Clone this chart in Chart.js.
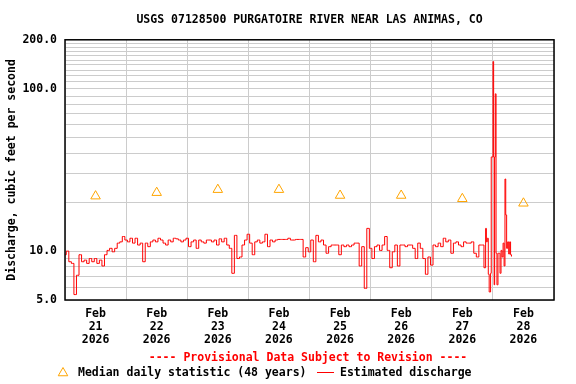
<!DOCTYPE html>
<html>
<head>
<meta charset="utf-8">
<script src="https://cdn.jsdelivr.net/npm/chart.js@4.4.0/dist/chart.umd.min.js"></script>
<style>
  body { margin: 0; background: #fff; }
  #wrap { width: 576px; height: 384px; }
</style>
</head>
<body>
<div id="wrap"><canvas id="flowChart" width="576" height="384"></canvas></div>
<script>
// hourly discharge, Feb 21 00:00 -> Feb 27 20:00 (hour 0..164), cfs
const flowHourly = [
  9.5, 10, 8.6, 8.4, 5.4, 7.1, 9.5, 8.6, 8.8, 8.4, 9, 8.6, 9, 8.4, 8.8, 8.1,
  9.5, 10.1, 10.4, 9.9, 10.4, 11.2, 11.4, 12.3, 11.7, 11.4, 12, 11.2, 12, 10.9,
  11.2, 8.6, 11.2, 10.65, 11.4, 11.7, 11.4, 12, 11.7, 11.2, 10.9, 11.7, 11.4,
  12, 11.9, 11.7, 11.4, 11.7, 12, 10.65, 11.4, 11.7, 10.4, 11.7, 11.4, 11.2,
  11.7, 11.7, 11.4, 11.7, 10.9, 11.9, 11.4, 12, 10.9, 10.4, 7.3, 12.5, 9.0,
  9.2, 10.9, 11.7, 12.7, 11.2, 9.5, 11.4, 11.7, 11.2, 11.4, 12.7, 10.65, 11.7,
  11.4, 11.7, 11.8, 11.8, 11.8, 11.8, 12, 11.7, 11.7, 11.8, 11.8, 11.8, 9.2,
  10.5, 9.9, 11.7, 8.6, 12.5, 11.4, 11.7, 10.9, 9.7, 10.65, 10.9, 10.9, 10.9,
  9.5, 10.9, 10.65, 10.9, 10.65, 10.9, 11.2, 11.2, 8.1, 10.65, 5.9, 13.8, 10.4,
  9, 10.65, 10.9, 10.1, 10.9, 12.3, 10.1, 7.9, 9.9, 10.9, 8.1, 10.9, 10.9,
  10.65, 10.9, 10.9, 10.4, 9, 11.2, 10.4, 9, 7.2, 9.2, 8.2, 10.9, 10.65, 11.2,
  10.65, 12, 11.4, 11.7, 9.7, 11.2, 11.4, 10.9, 10.65, 11.4, 11.2, 11.2, 11.4,
  9.7, 9.2, 10.9, 10.9
];

// storm event on Feb 27-28, finer time steps (hours since Feb 21 00:00)
const peakTimes = [
  165.0, 165.3, 165.6, 166.0, 166.4, 166.7, 167.0, 167.2, 167.5, 167.9, 168.2,
  168.4, 168.6, 168.8, 169.1, 169.4, 169.8, 170.2, 170.6, 171.0, 171.4, 171.8,
  172.2, 172.6, 172.9, 173.2, 173.6, 174.0, 174.4, 174.8, 175.1, 175.5
];
const peakFlow = [
  7.9, 13.8, 11.4, 12.0, 7.2, 5.6, 5.6, 7.3, 38, 38, 147,
  38, 6.2, 38, 93, 9.7, 6.2, 9.7, 9.7, 7.3, 10.1, 9.2,
  11.2, 8.1, 27.8, 16.7, 10.4, 11.4, 9.6, 11.4, 9.5, 9.3
];

// median daily statistic (48 years), one per day at noon
const medianHours = [12, 36, 60, 84, 108, 132, 156, 180];
const medianFlow = [21.8, 22.9, 23.9, 23.9, 22.0, 22.0, 21.0, 19.7];

const dayLabels = ['21', '22', '23', '24', '25', '26', '27', '28'];
const yTicks = [5, 6, 7, 8, 9, 10, 20, 30, 40, 50, 60, 70, 80, 90, 100,
  110, 120, 130, 140, 150, 160, 170, 180, 190, 200];
const yLabeled = [5, 10, 100, 200];

const FONT = "'DejaVu Sans Mono', 'Liberation Mono', monospace";

let flowPoints = [];
for (let i = 0; i < flowHourly.length; i++) {
    flowPoints.push({x: i, y: flowHourly[i]});
}
for (let i = 0; i < peakTimes.length; i++) {
    flowPoints.push({x: peakTimes[i], y: peakFlow[i]});
}
const medianPoints = medianHours.map((h, i) => ({x: h, y: medianFlow[i]}));

const frameAndFooter = {
    id: 'frameAndFooter',
    afterDraw(chart) {
        const ctx = chart.ctx;
        const a = chart.chartArea;
        ctx.save();
        ctx.strokeStyle = '#000';
        ctx.lineWidth = 1.5;
        ctx.strokeRect(a.left, a.top, a.right - a.left, a.bottom - a.top);

        ctx.font = 'bold 11.5px ' + FONT;
        ctx.textBaseline = 'middle';
        ctx.textAlign = 'center';
        ctx.fillStyle = '#ff0000';
        ctx.fillText('---- Provisional Data Subject to Revision ----', 308, 358);

        // legend row
        ctx.textAlign = 'left';
        ctx.fillStyle = 'rgba(0,0,0,0)';
        ctx.strokeStyle = '#ffa500';
        ctx.lineWidth = 1;
        Chart.helpers.drawPoint(ctx, {pointStyle: 'triangle', radius: 5.5, borderWidth: 1}, 63, 373);
        ctx.fillStyle = '#000';
        ctx.fillText('Median daily statistic (48 years)', 78, 373);
        ctx.strokeStyle = '#ff0000';
        ctx.beginPath();
        ctx.moveTo(317, 372.5);
        ctx.lineTo(334, 372.5);
        ctx.stroke();
        ctx.fillText('Estimated discharge', 340, 373);
        ctx.restore();
    }
};

new Chart('flowChart', {
    type: 'line',
    data: {
        datasets: [{
            label: 'Estimated discharge',
            data: flowPoints,
            borderColor: '#ff0000',
            borderWidth: 1,
            pointRadius: 0,
            stepped: 'middle',
            fill: false
        }, {
            label: 'Median daily statistic (48 years)',
            data: medianPoints,
            showLine: false,
            pointStyle: 'triangle',
            pointRadius: 5.5,
            pointBorderColor: '#ffa500',
            pointBackgroundColor: 'rgba(0,0,0,0)',
            pointBorderWidth: 1
        }]
    },
    options: {
        responsive: false,
        animation: false,
        devicePixelRatio: 1,
        layout: {padding: {top: 0, right: 22, bottom: 0, left: 0}},
        plugins: {
            legend: {display: false},
            tooltip: {enabled: false},
            title: {
                display: true,
                fullSize: false,
                text: 'USGS 07128500 PURGATOIRE RIVER NEAR LAS ANIMAS, CO',
                color: '#000',
                font: {family: FONT, size: 11.5, weight: 'bold'},
                padding: {top: 13, bottom: 13}
            }
        },
        scales: {
            x: {
                type: 'linear',
                min: 0,
                max: 192,
                afterFit: (scale) => { scale.height = 84; },
                afterBuildTicks: (scale) => {
                    let t = [];
                    for (let h = 0; h <= 192; h += 12) t.push({value: h});
                    scale.ticks = t;
                },
                grid: {
                    drawTicks: false,
                    color: (c) => (c.tick && c.tick.value % 24 === 0) ? '#cccccc' : 'rgba(0,0,0,0)',
                    lineWidth: 1
                },
                border: {display: false},
                ticks: {
                    autoSkip: false,
                    maxRotation: 0,
                    padding: 7,
                    color: '#000',
                    font: {family: FONT, size: 11.5, weight: 'bold', lineHeight: 1.15},
                    callback: (v) => {
                        if (v % 24 !== 12) return '';
                        return ['Feb', dayLabels[(v - 12) / 24], '2026'];
                    }
                }
            },
            y: {
                type: 'logarithmic',
                min: 5,
                max: 200,
                afterFit: (scale) => { scale.width = 65; },
                afterBuildTicks: (scale) => {
                    scale.ticks = yTicks.map(v => ({value: v}));
                },
                grid: {drawTicks: false, color: '#cccccc', lineWidth: 1},
                border: {display: false},
                title: {
                    display: true,
                    text: 'Discharge, cubic feet per second',
                    color: '#000',
                    font: {family: FONT, size: 11.5, weight: 'bold'},
                    padding: {top: 5, bottom: 0}
                },
                ticks: {
                    autoSkip: false,
                    padding: 8,
                    color: '#000',
                    font: {family: FONT, size: 11.5, weight: 'bold'},
                    callback: (v) => yLabeled.includes(v) ? v.toFixed(1) : ''
                }
            }
        }
    },
    plugins: [frameAndFooter]
});
</script>
</body>
</html>
